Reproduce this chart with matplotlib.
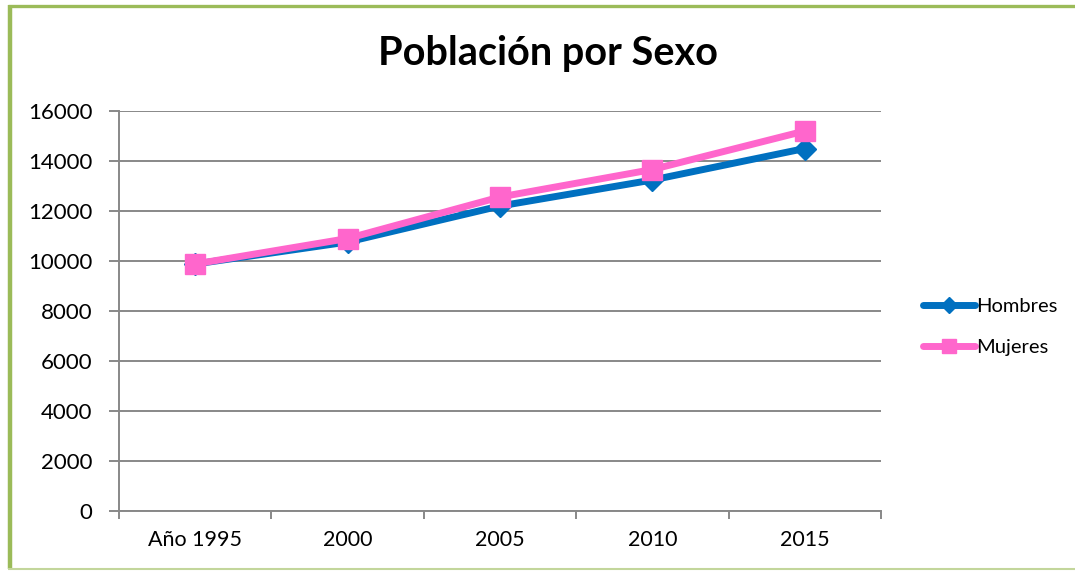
import matplotlib
matplotlib.use("Agg")
import matplotlib.pyplot as plt
from matplotlib.lines import Line2D

categories = ["Año 1995", "2000", "2005", "2010", "2015"]
hombres = [9880, 10760, 12200, 13240, 14500]
mujeres = [9880, 10900, 12560, 13660, 15200]
yticks = [0, 2000, 4000, 6000, 8000, 10000, 12000, 14000, 16000]

plt.rcParams['font.family'] = ['Lato', 'DejaVu Sans']

W, H = 1075, 571
fig = plt.figure(figsize=(W / 100, H / 100), dpi=100)
fig.patch.set_facecolor("white")

# frame around the chart area
green = "#9BBB59"
fig.add_artist(Line2D([10 / W, 10 / W], [1 - 5 / H, 1 - 569 / H], color=green, lw=3.2,
                      transform=fig.transFigure, solid_capstyle="butt"))
fig.add_artist(Line2D([8 / W, 1.0], [1 - 6 / H, 1 - 6 / H], color=green, lw=2.4,
                      transform=fig.transFigure, solid_capstyle="butt"))
fig.add_artist(Line2D([8 / W, 1.0], [1 - 569 / H, 1 - 569 / H], color="#C3D69B", lw=1.5,
                      transform=fig.transFigure, solid_capstyle="butt"))

left, right, top, bottom = 119, 881, 111, 511
ax = fig.add_axes([left / W, 1 - bottom / H, (right - left) / W, (bottom - top) / H])

x = list(range(len(categories)))
grid_c = "#888888"
ax.set_xlim(-0.5, len(categories) - 0.5)
ax.set_ylim(0, 16000)
ax.set_yticks(yticks)
ax.set_yticklabels([str(v) for v in yticks], fontsize=16)
ax.yaxis.grid(True, color=grid_c, lw=1.4)
ax.set_axisbelow(True)

ax.set_xticks(x)
ax.set_xticklabels(categories, fontsize=15.5)
ax.tick_params(axis="x", length=0, pad=14)
ax.set_xticks([i - 0.5 for i in range(len(categories) + 1)], minor=True)
ax.tick_params(axis="x", which="minor", length=6, color=grid_c, width=1.4)
ax.tick_params(axis="y", length=7, color=grid_c, width=1.4, pad=12)

for s in ["top", "right"]:
    ax.spines[s].set_visible(False)
for s in ["left", "bottom"]:
    ax.spines[s].set_color(grid_c)
    ax.spines[s].set_linewidth(1.4)

ax.plot(x, hombres, color="#0070C0", lw=5, marker="D", ms=11, label="Hombres",
        solid_capstyle="round", zorder=3)
ax.plot(x, mujeres, color="#FF66CC", lw=5, marker="s", ms=14, label="Mujeres",
        solid_capstyle="round", zorder=4)

fig.text(548 / W, 1 - 53 / H, "Población por Sexo", ha="center", va="center",
         fontsize=28.5, fontweight="bold")

leg = fig.legend(loc="center left", bbox_to_anchor=(905 / W, 1 - 327 / H), frameon=False,
                 fontsize=14.5, handlelength=2.6, handletextpad=0.05, labelspacing=1.2,
                 markerscale=0.7)

fig.savefig("out.png", dpi=100)
